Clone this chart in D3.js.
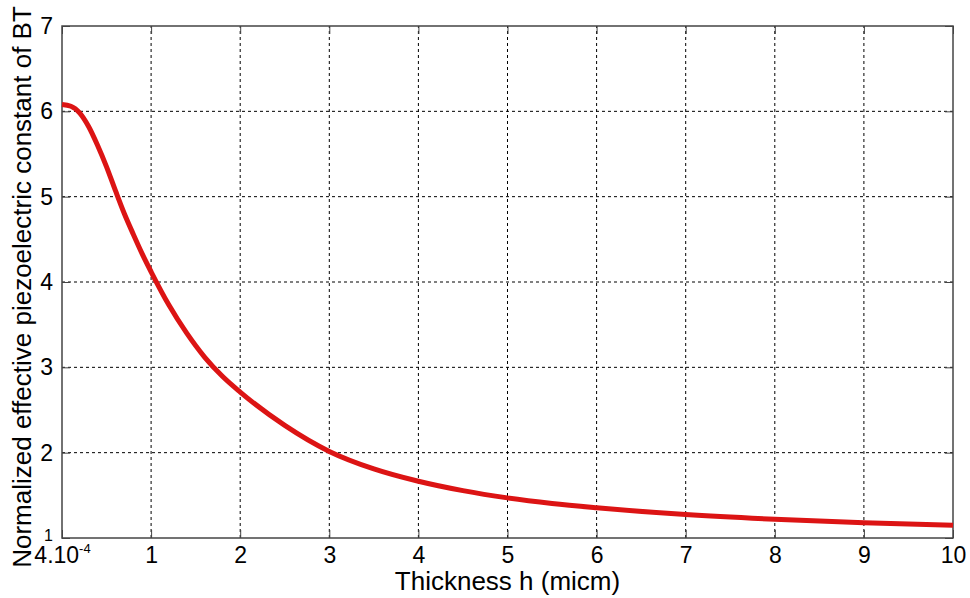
<!DOCTYPE html>
<html>
<head>
<meta charset="utf-8">
<script src="https://cdn.jsdelivr.net/npm/d3@7"></script>
<style>
  body { margin: 0; background: #fff; }
  text { font-family: "Liberation Sans", Arial, sans-serif; fill: #000; }
</style>
</head>
<body>
<svg width="970" height="598"></svg>
<script>
// thickness h (micm) and normalized effective piezoelectric constant
var thickness = [0, 0.1, 0.2, 0.3, 0.4, 0.5, 0.6, 0.7, 0.8, 0.9, 1, 1.2, 1.4, 1.6, 1.8, 2,
                 2.5, 3, 3.5, 4, 4.5, 5, 5.5, 6, 7, 8, 9, 10];
var piezo = [6.08, 6.06, 5.98, 5.82, 5.6, 5.35, 5.07, 4.8, 4.56, 4.33, 4.12, 3.73, 3.4, 3.12, 2.895, 2.71,
             2.32, 2.015, 1.81, 1.665, 1.555, 1.47, 1.405, 1.355, 1.275, 1.22, 1.18, 1.15];
var xTicks = [0, 1, 2, 3, 4, 5, 6, 7, 8, 9, 10];
var yTicks = [1, 2, 3, 4, 5, 6, 7];

var svg = d3.select("svg");
var margin = { left: 62, right: 17, top: 26, bottom: 60 };
var W = 970, H = 598;

var x = d3.scaleLinear().domain([0, 10]).range([margin.left, W - margin.right]);
var y = d3.scaleLinear().domain([1, 7]).range([H - margin.bottom, margin.top]);

var g = svg.append("g");

// dotted grid
g.selectAll("line.vg")
  .data(xTicks.slice(1, -1))
  .enter()
  .append("line")
  .attr("x1", (d) => x(d)).attr("x2", (d) => x(d))
  .attr("y1", y(1)).attr("y2", y(7))
  .attr("stroke", "#000").attr("stroke-width", 1)
  .attr("stroke-dasharray", "3,3");
g.selectAll("line.hg")
  .data(yTicks.slice(1, -1))
  .enter()
  .append("line")
  .attr("x1", x(0)).attr("x2", x(10))
  .attr("y1", (d) => y(d)).attr("y2", (d) => y(d))
  .attr("stroke", "#000").attr("stroke-width", 1)
  .attr("stroke-dasharray", "3,3");

// box
g.append("rect")
  .attr("x", x(0)).attr("y", y(7))
  .attr("width", x(10) - x(0)).attr("height", y(1) - y(7))
  .attr("fill", "none").attr("stroke", "#444").attr("stroke-width", 1.5);

// axes with inward ticks
var xAxis = g.append("g")
  .attr("transform", "translate(0," + y(1) + ")")
  .call(d3.axisBottom(x).tickValues(xTicks).tickFormat(d3.format("d"))
    .tickSizeInner(-8).tickSizeOuter(0).tickPadding(9));
var yAxis = g.append("g")
  .attr("transform", "translate(" + x(0) + ",0)")
  .call(d3.axisLeft(y).tickValues(yTicks).tickFormat(d3.format("d"))
    .tickSizeInner(-8).tickSizeOuter(0).tickPadding(9));
g.append("g")
  .attr("transform", "translate(0," + y(7) + ")")
  .call(d3.axisTop(x).tickValues(xTicks).tickSizeInner(-8).tickSizeOuter(0).tickFormat(""));
g.append("g")
  .attr("transform", "translate(" + x(10) + ",0)")
  .call(d3.axisRight(y).tickValues(yTicks).tickSizeInner(-8).tickSizeOuter(0).tickFormat(""));

g.selectAll(".domain").remove();
g.selectAll(".tick line").attr("stroke", "#444");
g.selectAll(".tick text").attr("font-size", 23).attr("font-family", "Liberation Sans, Arial, sans-serif");

// the y tick "1" is drawn smaller in the original, squeezed above the first x label
yAxis.selectAll(".tick text").filter((d) => d === 1)
  .attr("font-size", 16)
  .attr("dy", "0.15em");

// first x tick is labelled 4.10^-4
xAxis.selectAll(".tick text")
  .filter((d) => d === 0)
  .text(null)
  .call(function (t) {
    t.append("tspan").text("4.10");
    t.append("tspan").attr("dy", -10).attr("font-size", 13).text("-4");
  });

// curve
var line = d3.line()
  .x((d, i) => x(thickness[i]))
  .y((d) => y(d))
  .curve(d3.curveMonotoneX);
g.append("path")
  .datum(piezo)
  .attr("d", line)
  .attr("fill", "none")
  .attr("stroke", "#dc1414")
  .attr("stroke-width", 5)
  .attr("stroke-linejoin", "round");

// labels
svg.append("text")
  .attr("x", (x(0) + x(10)) / 2)
  .attr("y", 590)
  .attr("text-anchor", "middle")
  .attr("font-size", 26)
  .text("Thickness h (micm)");
svg.append("text")
  .attr("transform", "translate(31," + 287 + ") rotate(-90)")
  .attr("text-anchor", "middle")
  .attr("font-size", 26)
  .text("Normalized effective piezoelectric constant of BT");
</script>
</body>
</html>
